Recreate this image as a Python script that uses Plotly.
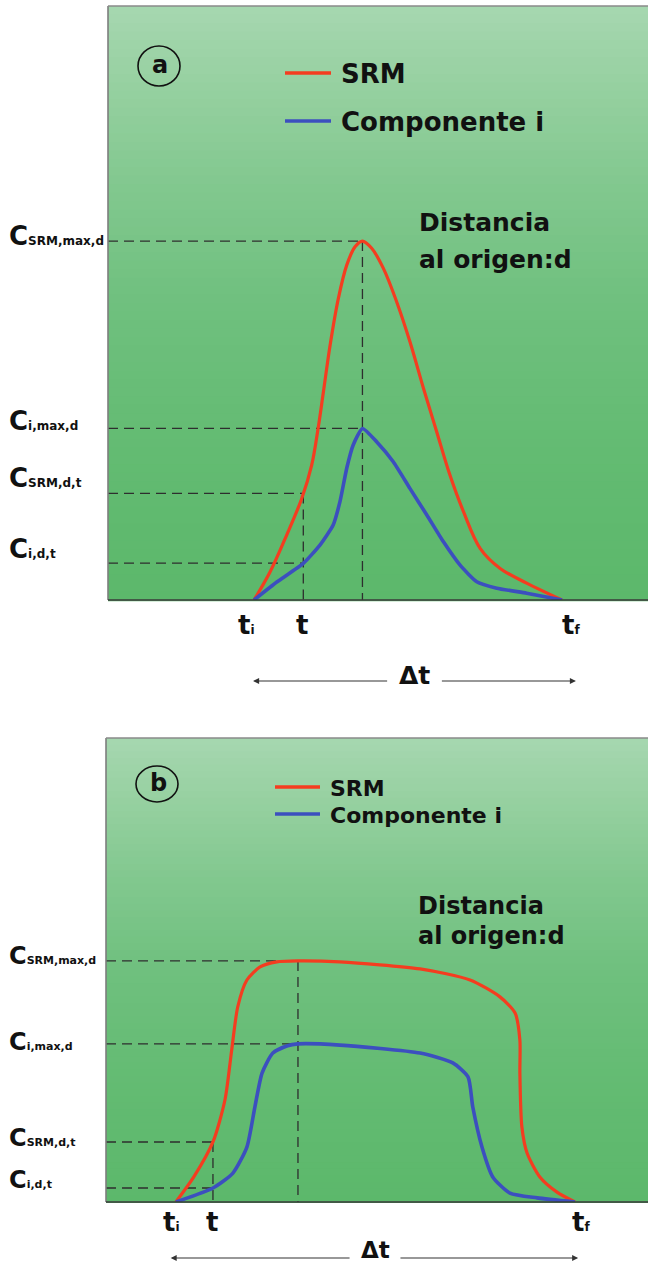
import plotly.graph_objects as go

W, H = 648, 1266

# ---------------- data: panel (a) (pulse) ----------------
a_srm_t = [0, 0.52, 1.06, 1.55, 1.87, 2.08, 2.25, 2.47, 2.74, 3.01, 3.28, 3.52, 3.82, 4.20, 4.63, 5.06, 5.50, 5.93, 6.36, 6.80, 7.34, 7.99, 8.85, 10]
a_srm_c = [0, 0.78, 1.81, 2.83, 3.75, 4.78, 5.78, 7.10, 8.41, 9.33, 9.84, 10.0, 9.80, 9.24, 8.31, 7.20, 5.90, 4.69, 3.48, 2.46, 1.44, 0.88, 0.47, 0]
a_comp_t = [0, 0.74, 1.60, 2.14, 2.57, 2.79, 3.01, 3.22, 3.52, 3.98, 4.52, 5.06, 5.61, 6.15, 6.69, 7.23, 7.88, 8.85, 10]
a_comp_c = [0, 0.50, 1.02, 1.53, 2.09, 2.74, 3.67, 4.32, 4.78, 4.41, 3.85, 3.11, 2.37, 1.62, 0.97, 0.51, 0.33, 0.19, 0]
a_marks_t = [0.0, 1.60, 10.0]          # t_i, t, t_f
a_t_peak = 3.52
a_levels = [10.0, 4.78, 2.97, 1.03]     # C_SRM,max,d  C_i,max,d  C_SRM,d,t  C_i,d,t

# ---------------- data: panel (b) (plateau) ----------------
b_srm_t = [0, 0.45, 0.93, 1.23, 1.40, 1.55, 1.78, 2.11, 2.53, 3.06, 4.11, 6.12, 7.37, 8.12, 8.50, 8.62, 8.62, 8.67, 8.80, 9.12, 9.55, 10]
b_srm_c = [0, 1.04, 2.49, 4.23, 6.31, 8.09, 9.21, 9.75, 9.96, 10.0, 9.96, 9.67, 9.21, 8.51, 7.84, 6.72, 5.35, 3.11, 2.03, 1.04, 0.41, 0]
b_comp_t = [0, 0.93, 1.43, 1.78, 1.98, 2.16, 2.43, 2.78, 3.06, 4.11, 6.12, 6.94, 7.32, 7.44, 7.67, 7.94, 8.37, 9.05, 10]
b_comp_c = [0, 0.58, 1.20, 2.28, 3.94, 5.35, 6.18, 6.47, 6.56, 6.51, 6.18, 5.77, 5.19, 3.94, 2.28, 1.04, 0.37, 0.17, 0]
b_marks_t = [0.0, 0.93, 10.0]
b_t_peak = 3.06
b_levels = [10.0, 6.56, 2.49, 0.58]

series_names = ["SRM", "Componente i"]
level_main = ["C", "C", "C", "C"]
level_subs = ["SRM,max,d", "i,max,d", "SRM,d,t", "i,d,t"]
tick_main = ["t", "t", "t"]
tick_subs = ["i", "", "f"]
panel_tags = ["a", "b"]
note_lines = ["Distancia", "al origen:d"]
span_label = "Δt"

RED = "#f43d20"
BLUE = "#3c4fbf"
DASH = "#2e2e2e"
FONT = "DejaVu Sans"


def px(x):
    return x / W


def py(y):
    return 1 - y / H


# panel geometry in pixels
PA = dict(left=108, top=6, bottom=600)
PB = dict(left=106, top=738, bottom=1202)
XR_A = [-4.74, 12.79]
YR_A = [0, 16.55]
XR_B = [-1.75, 11.83]
YR_B = [0, 19.25]

fig = go.Figure()


def add_panel(xa, ya, srm_t, srm_c, comp_t, comp_c, marks_t, t_peak, levels, xr, sm_r, sm_b):
    x0 = xr[0]
    s_max, i_max, s_t, i_t = levels
    tt = marks_t[1]
    fig.add_trace(go.Scatter(
        x=[x0, t_peak, None, x0, t_peak, None, x0, tt, None, x0, tt, None, t_peak, t_peak, None, tt, tt],
        y=[s_max, s_max, None, i_max, i_max, None, s_t, s_t, None, i_t, i_t, None, s_max, 0, None, s_t, 0],
        mode="lines", line=dict(color=DASH, width=1.3, dash="10px,6px"),
        hoverinfo="skip", showlegend=False, xaxis=xa, yaxis=ya))
    fig.add_trace(go.Scatter(x=srm_t, y=srm_c, mode="lines", name=series_names[0],
                             line=dict(color=RED, width=3.2, shape="spline", smoothing=sm_r),
                             showlegend=False, xaxis=xa, yaxis=ya))
    fig.add_trace(go.Scatter(x=comp_t, y=comp_c, mode="lines", name=series_names[1],
                             line=dict(color=BLUE, width=3.6, shape="spline", smoothing=sm_b),
                             showlegend=False, xaxis=xa, yaxis=ya))


add_panel("x", "y", a_srm_t, a_srm_c, a_comp_t, a_comp_c, a_marks_t, a_t_peak, a_levels, XR_A, 1.0, 0.5)
add_panel("x2", "y2", b_srm_t, b_srm_c, b_comp_t, b_comp_c, b_marks_t, b_t_peak, b_levels, XR_B, 0.7, 0.6)

shapes = []
annotations = []

# gradient background bands
stops = [(0.0, (166, 215, 176)), (0.12, (152, 209, 162)), (0.3, (130, 200, 143)),
         (0.5, (111, 192, 126)), (0.75, (99, 187, 114)), (1.0, (92, 184, 107))]


def grad(f):
    for (f0, c0), (f1, c1) in zip(stops[:-1], stops[1:]):
        if f0 <= f <= f1:
            u = (f - f0) / (f1 - f0)
            return "rgb(%d,%d,%d)" % tuple(round(a + (b - a) * u) for a, b in zip(c0, c1))
    return "rgb(%d,%d,%d)" % stops[-1][1]


N = 70
for xa, ya in (("x", "y"), ("x2", "y2")):
    for i in range(N):
        shapes.append(dict(type="rect", xref=xa + " domain", yref=ya + " domain",
                           x0=0, x1=1, y0=1 - (i + 1) / N - 0.002, y1=1 - i / N,
                           fillcolor=grad((i + 0.5) / N), line=dict(width=0), layer="below"))
    # frame: left + top grey, bottom dark
    shapes.append(dict(type="line", xref=xa + " domain", yref=ya + " domain", x0=0, x1=0, y0=0, y1=1,
                       line=dict(color="#7d7d7d", width=1.6)))
    shapes.append(dict(type="line", xref=xa + " domain", yref=ya + " domain", x0=0, x1=1, y0=1, y1=1,
                       line=dict(color="#8a8a8a", width=1.6)))
    shapes.append(dict(type="line", xref=xa + " domain", yref=ya + " domain", x0=0, x1=1, y0=0, y1=0,
                       line=dict(color="#3a3a3a", width=1.6)))

# panel tags (circled letters)
for tag, (cx, cy, rx, ry) in zip(panel_tags, [(159, 66, 21, 20), (157, 784, 21, 18)]):
    shapes.append(dict(type="circle", xref="paper", yref="paper",
                       x0=px(cx - rx), x1=px(cx + rx), y0=py(cy + ry), y1=py(cy - ry),
                       line=dict(color="#111", width=1.6)))
    annotations.append(dict(text="<b>%s</b>" % tag, x=px(cx + 1), y=py(cy - 1), xref="paper", yref="paper",
                            showarrow=False, xanchor="center", yanchor="middle",
                            font=dict(family=FONT, size=24, color="#111")))

# manual legends
for (lx0, lx1, ly1, ly2, tx, fs) in [(285, 331, 73, 121, 339, 26), (275, 320, 787, 814, 328, 22)]:
    for ly, col, nm in ((ly1, RED, series_names[0]), (ly2, BLUE, series_names[1])):
        shapes.append(dict(type="line", xref="paper", yref="paper", x0=px(lx0), x1=px(lx1),
                           y0=py(ly), y1=py(ly), line=dict(color=col, width=3.5)))
        annotations.append(dict(text="<b>%s</b>" % nm, x=px(tx), y=py(ly + 1), xref="paper", yref="paper",
                                showarrow=False, xanchor="left", yanchor="middle",
                                font=dict(family=FONT, size=fs, color="#111")))

# "Distancia al origen:d"
for (nx, ny1, ny2, fs) in [(417, 222, 259, 25), (416, 906, 936, 24)]:
    for txt, ny in zip(note_lines, (ny1, ny2)):
        annotations.append(dict(text="<b>%s</b>" % txt, x=px(nx), y=py(ny), xref="paper", yref="paper",
                                showarrow=False, xanchor="left", yanchor="middle",
                                font=dict(family=FONT, size=fs, color="#111")))

# level labels on the left
for ya, levels, shifts, csize, ssize in [("y", a_levels, [5, 7, 15, 14], 26, 12),
                                         ("y2", b_levels, [5, 2, 4, 8], 24, 11)]:
    for main, sub, lv, sh in zip(level_main, level_subs, levels, shifts):
        annotations.append(dict(text="<b>%s<span style='font-size:%dpx'>%s</span></b>" % (main, ssize, sub),
                                x=px(7), y=lv, xref="paper", yref=ya, yshift=sh,
                                showarrow=False, xanchor="left", yanchor="middle",
                                font=dict(family=FONT, size=csize, color="#111")))

# tick labels t_i, t, t_f
for xa, marks, shifts, ty in [("x", a_marks_t, [-8, -1, 9], 625), ("x2", b_marks_t, [-4, -1, 6], 1222)]:
    for main, sub, mx, sh in zip(tick_main, tick_subs, marks, shifts):
        txt = "<b>%s<span style='font-size:12px'>%s</span></b>" % (main, sub) if sub else "<b>%s</b>" % main
        annotations.append(dict(text=txt, x=mx, y=py(ty), xref=xa, yref="paper", xshift=sh,
                                showarrow=False, xanchor="center", yanchor="middle",
                                font=dict(family=FONT, size=26, color="#111")))

# Δt span arrows
for xa, (l_end, g_l, g_r, r_end), dx, ay_px, ty, fs in [
        ("x", (-0.03, 4.37, 6.05, 10.45), 5.2, 681, 675, 25),
        ("x2", (-0.13, 4.39, 5.59, 10.08), 5.0, 1258, 1250, 23)]:
    for head, tail in ((l_end, g_l), (r_end, g_r)):
        annotations.append(dict(text="", x=head, y=py(ay_px), xref=xa, yref="paper",
                                ax=tail, ay=0, axref=xa, ayref="pixel", showarrow=True,
                                arrowhead=2, arrowsize=1.1, arrowwidth=1.1, arrowcolor="#333",
                                standoff=0, startstandoff=0))
    annotations.append(dict(text="<b>%s</b>" % span_label, x=dx, y=py(ty), xref=xa, yref="paper",
                            showarrow=False, xanchor="center", yanchor="middle",
                            font=dict(family=FONT, size=fs, color="#111")))

ax_common = dict(visible=False, showgrid=False, zeroline=False, fixedrange=True)
fig.update_layout(
    width=W, height=H, margin=dict(l=0, r=0, t=0, b=0),
    paper_bgcolor="white", plot_bgcolor="rgba(0,0,0,0)",
    showlegend=False,
    xaxis=dict(domain=[px(PA["left"]), 1], range=XR_A, anchor="y", **ax_common),
    yaxis=dict(domain=[py(PA["bottom"]), py(PA["top"])], range=YR_A, anchor="x", **ax_common),
    xaxis2=dict(domain=[px(PB["left"]), 1], range=XR_B, anchor="y2", **ax_common),
    yaxis2=dict(domain=[py(PB["bottom"]), py(PB["top"])], range=YR_B, anchor="x2", **ax_common),
    shapes=shapes, annotations=annotations,
    font=dict(family=FONT, color="#111"),
)

fig.write_html("out.html")
